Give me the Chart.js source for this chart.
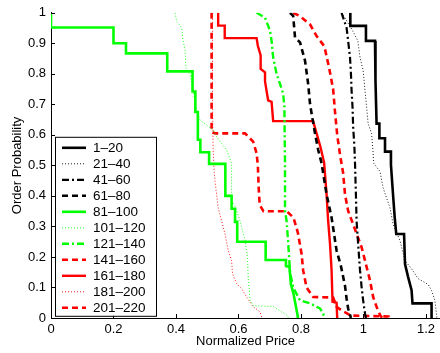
<!DOCTYPE html>
<html>
<head>
<meta charset="utf-8">
<script src="https://cdn.jsdelivr.net/npm/chart.js@4/dist/chart.umd.min.js"></script>
<style>
  html, body { margin: 0; padding: 0; background: #fff; }
  #wrap { width: 440px; height: 353px; position: relative; }
</style>
</head>
<body>
<div id="wrap"><canvas id="c" width="440" height="353"></canvas></div>
<script>
// ---- tick labels / axis ----
const X_TICKS = [0, 0.2, 0.4, 0.6, 0.8, 1, 1.2];
const Y_TICKS = [0, 0.1, 0.2, 0.3, 0.4, 0.5, 0.6, 0.7, 0.8, 0.9, 1];
const X_TICK_LABELS = ['0', '0.2', '0.4', '0.6', '0.8', '1', '1.2'];
const Y_TICK_LABELS = ['0', '0.1', '0.2', '0.3', '0.4', '0.5', '0.6', '0.7', '0.8', '0.9', '1'];
const X_TITLE = 'Normalized Price';
const Y_TITLE = 'Order Probability';

// ---- series labels ----
const SERIES_LABELS = ['1\u201320', '21\u201340', '41\u201360', '61\u201380', '81\u2013100', '101\u2013120',
  '121\u2013140', '141\u2013160', '161\u2013180', '181\u2013200', '201\u2013220'];

// ---- series values (normalized price x, order probability y) ----
const s01_x = [0.958, 0.958, 1.008, 1.008, 1.037, 1.037, 1.040, 1.042, 1.051, 1.051, 1.069, 1.069, 1.088, 1.088, 1.095, 1.100, 1.105, 1.130, 1.133, 1.143, 1.154, 1.157, 1.218, 1.218];
const s01_y = [1, 0.957, 0.957, 0.908, 0.908, 0.865, 0.778, 0.637, 0.637, 0.589, 0.589, 0.545, 0.545, 0.502, 0.40, 0.33, 0.275, 0.275, 0.177, 0.134, 0.091, 0.048, 0.048, 0];

const s02_x = [0.930, 0.940, 0.966, 0.982, 0.989, 0.999, 1.005, 1.010, 1.015, 1.026, 1.031, 1.033, 1.053, 1.063, 1.085, 1.095, 1.117, 1.133, 1.154, 1.175, 1.207, 1.218, 1.228, 1.232, 1.235];
const s02_y = [1, 0.985, 0.94, 0.908, 0.854, 0.811, 0.746, 0.692, 0.637, 0.605, 0.54, 0.507, 0.48, 0.426, 0.361, 0.307, 0.253, 0.188, 0.161, 0.129, 0.11, 0.09, 0.06, 0.03, 0];

const s03_x = [0.930, 0.935, 0.946, 0.951, 0.957, 0.960, 0.962, 0.965, 0.967, 0.971, 0.973, 0.976, 0.978, 0.983, 0.989, 0.994, 0.999, 1.005, 1.008];
const s03_y = [1, 0.984, 0.951, 0.908, 0.854, 0.80, 0.746, 0.692, 0.627, 0.562, 0.507, 0.40, 0.318, 0.243, 0.156, 0.102, 0.058, 0.015, 0];

const s04_x = [0.765, 0.775, 0.781, 0.797, 0.813, 0.823, 0.829, 0.834, 0.845, 0.855, 0.866, 0.882, 0.898, 0.914, 0.928, 0.941, 0.946, 0.951, 0.957, 0.960];
const s04_y = [1, 0.99, 0.919, 0.903, 0.843, 0.767, 0.702, 0.67, 0.605, 0.551, 0.507, 0.405, 0.329, 0.221, 0.17, 0.105, 0.064, 0.031, 0.01, 0];

const s05_x = [0, 0, 0.2, 0.2, 0.24, 0.24, 0.372, 0.372, 0.453, 0.453, 0.462, 0.462, 0.470, 0.470, 0.478, 0.478, 0.506, 0.506, 0.558, 0.558, 0.578, 0.578, 0.589, 0.589, 0.596, 0.596, 0.687, 0.687, 0.752, 0.752, 0.755, 0.763, 0.768, 0.776, 0.781, 0.789, 0.790];
const s05_y = [1, 0.952, 0.952, 0.90, 0.90, 0.867, 0.867, 0.808, 0.808, 0.742, 0.742, 0.675, 0.675, 0.584, 0.584, 0.543, 0.543, 0.505, 0.505, 0.40, 0.40, 0.358, 0.358, 0.315, 0.315, 0.25, 0.25, 0.19, 0.19, 0.17, 0.169, 0.169, 0.11, 0.08, 0.053, 0.01, 0];

const s06_x = [0.397, 0.402, 0.418, 0.423, 0.429, 0.432, 0.445, 0.450, 0.466, 0.477, 0.498, 0.519, 0.530, 0.546, 0.562, 0.578, 0.578, 0.589, 0.605, 0.621, 0.629, 0.631, 0.637, 0.647, 0.711, 0.738, 0.754, 0.760];
const s06_y = [1, 0.973, 0.951, 0.908, 0.876, 0.821, 0.80, 0.767, 0.681, 0.648, 0.632, 0.616, 0.594, 0.572, 0.551, 0.507, 0.383, 0.367, 0.318, 0.253, 0.199, 0.134, 0.058, 0.04, 0.038, 0.02, 0.01, 0];

const s07_x = [0.658, 0.685, 0.701, 0.706, 0.711, 0.722, 0.733, 0.743, 0.747, 0.748, 0.749, 0.749, 0.754, 0.759, 0.765, 0.775, 0.797, 0.829, 0.861, 0.871, 0.875];
const s07_y = [1, 0.984, 0.941, 0.908, 0.854, 0.80, 0.767, 0.735, 0.692, 0.583, 0.507, 0.351, 0.318, 0.248, 0.15, 0.10, 0.058, 0.048, 0.031, 0.015, 0];

const s08_x = [0.514, 0.514, 0.525, 0.621, 0.647, 0.658, 0.662, 0.665, 0.668, 0.680, 0.754, 0.776, 0.790, 0.802, 0.807, 0.818, 0.839, 0.903, 0.914, 0.930, 0.960, 1.080, 1.080];
const s08_y = [1, 0.61, 0.605, 0.605, 0.578, 0.54, 0.50, 0.42, 0.37, 0.35, 0.35, 0.329, 0.28, 0.21, 0.156, 0.10, 0.069, 0.067, 0.037, 0.025, 0.008, 0.005, 0];

const s09_x = [0.535, 0.535, 0.556, 0.556, 0.658, 0.662, 0.671, 0.671, 0.685, 0.685, 0.695, 0.706, 0.711, 0.839, 0.850, 0.862, 0.874, 0.882, 0.887, 0.893, 0.898, 0.901, 0.914, 0.916];
const s09_y = [1, 0.958, 0.958, 0.917, 0.917, 0.892, 0.86, 0.816, 0.805, 0.775, 0.713, 0.708, 0.645, 0.645, 0.605, 0.562, 0.51, 0.405, 0.318, 0.243, 0.156, 0.053, 0.05, 0];

const s10_x = [0.517, 0.517, 0.519, 0.522, 0.525, 0.530, 0.535, 0.546, 0.557, 0.567, 0.578, 0.581, 0.594, 0.610, 0.626, 0.647, 0.669, 0.675];
const s10_y = [1, 0.70, 0.55, 0.481, 0.448, 0.405, 0.361, 0.318, 0.275, 0.221, 0.188, 0.145, 0.113, 0.096, 0.069, 0.037, 0.02, 0];

const s11_x = [0.775, 0.797, 0.829, 0.850, 0.875, 0.890, 0.903, 0.909, 0.916, 0.925, 0.935, 0.941, 0.951, 0.967, 0.994, 1.005, 1.021, 1.031, 1.042, 1.053, 1.060];
const s11_y = [1, 0.989, 0.962, 0.924, 0.89, 0.82, 0.75, 0.675, 0.60, 0.535, 0.475, 0.405, 0.351, 0.307, 0.232, 0.188, 0.123, 0.069, 0.037, 0.01, 0];

const SERIES_X = [s01_x, s02_x, s03_x, s04_x, s05_x, s06_x, s07_x, s08_x, s09_x, s10_x, s11_x];
const SERIES_Y = [s01_y, s02_y, s03_y, s04_y, s05_y, s06_y, s07_y, s08_y, s09_y, s10_y, s11_y];

// ---- styles ----
const BLACK = '#000000', GREEN = '#00ff00', RED = '#ff0000';
const STYLES = [
  { color: BLACK, width: 2.6, dash: [] },
  { color: BLACK, width: 0.9, dash: [1, 2] },
  { color: BLACK, width: 2.2, dash: [7, 3, 2, 3] },
  { color: BLACK, width: 2.6, dash: [6, 4] },
  { color: GREEN, width: 2.6, dash: [] },
  { color: GREEN, width: 0.9, dash: [1, 2] },
  { color: GREEN, width: 2.4, dash: [7, 3, 2, 3] },
  { color: RED, width: 2.6, dash: [6, 4] },
  { color: RED, width: 2.4, dash: [] },
  { color: RED, width: 0.9, dash: [1, 2] },
  { color: RED, width: 2.6, dash: [6, 4] }
];

const FONT = "'Liberation Sans', Arial, Helvetica, sans-serif";

const datasets = SERIES_LABELS.map((lab, i) => ({
  label: lab,
  data: SERIES_X[i].map((x, k) => ({ x: x, y: SERIES_Y[i][k] })),
  showLine: true,
  fill: false,
  borderColor: STYLES[i].color,
  backgroundColor: STYLES[i].color,
  borderWidth: STYLES[i].width,
  borderDash: STYLES[i].dash,
  pointRadius: 0,
  pointHoverRadius: 0,
  tension: 0
}));

// inward tick marks (MATLAB style)
const inwardTicks = {
  id: 'inwardTicks',
  afterDatasetsDraw(chart) {
    const ctx = chart.ctx, xs = chart.scales.x, ys = chart.scales.y, a = chart.chartArea;
    ctx.save();
    ctx.strokeStyle = '#000';
    ctx.lineWidth = 1;
    ctx.beginPath();
    X_TICKS.forEach(v => {
      const px = Math.round(xs.getPixelForValue(v)) + 0.5;
      ctx.moveTo(px, a.bottom); ctx.lineTo(px, a.bottom - 4);
    });
    Y_TICKS.forEach(v => {
      const py = Math.round(ys.getPixelForValue(v)) + 0.5;
      ctx.moveTo(a.left, py); ctx.lineTo(a.left + 4, py);
    });
    ctx.stroke();
    ctx.restore();
  }
};

// legend box inside the plot (bottom-left)
const boxLegend = {
  id: 'boxLegend',
  afterDraw(chart) {
    const ctx = chart.ctx, a = chart.chartArea;
    const left = a.left + 4, top = a.top + 124, w = 101, h = 179;
    ctx.save();
    ctx.fillStyle = '#fff';
    ctx.fillRect(left, top, w, h);
    ctx.strokeStyle = '#000';
    ctx.lineWidth = 1;
    ctx.setLineDash([]);
    ctx.strokeRect(left + 0.5, top + 0.5, w, h);
    ctx.font = '13.5px ' + FONT;
    ctx.textBaseline = 'middle';
    ctx.textAlign = 'left';
    chart.data.datasets.forEach((ds, i) => {
      const y = top + 11 + i * 16;
      ctx.strokeStyle = ds.borderColor;
      ctx.lineWidth = ds.borderWidth;
      ctx.setLineDash(ds.borderDash);
      ctx.beginPath();
      ctx.moveTo(left + 7, y);
      ctx.lineTo(left + 31, y);
      ctx.stroke();
      ctx.setLineDash([]);
      ctx.fillStyle = '#000';
      ctx.fillText(ds.label, left + 38, y + 0.5);
    });
    ctx.restore();
  }
};

new Chart(document.getElementById('c'), {
  type: 'scatter',
  data: { datasets: datasets },
  options: {
    responsive: false,
    animation: false,
    devicePixelRatio: 1,
    layout: { padding: { top: 10, right: 0, left: 0, bottom: 0 } },
    plugins: { legend: { display: false }, tooltip: { enabled: false } },
    scales: {
      x: {
        type: 'linear',
        min: 0,
        max: 1.245,
        afterBuildTicks: s => { s.ticks = X_TICKS.map(v => ({ value: v })); },
        afterFit: s => { s.height = 35; },
        grid: { display: true, drawOnChartArea: false, drawTicks: false },
        border: { display: true, color: '#000', width: 1 },
        ticks: {
          padding: 4,
          color: '#000',
          font: { family: FONT, size: 13 },
          maxRotation: 0,
          callback: v => X_TICK_LABELS[X_TICKS.indexOf(v)]
        },
        title: { display: true, text: X_TITLE, color: '#000', font: { family: FONT, size: 13 }, padding: { top: 0, bottom: 4 } }
      },
      y: {
        type: 'linear',
        min: 0,
        max: 1,
        afterBuildTicks: s => { s.ticks = Y_TICKS.map(v => ({ value: v })); },
        afterFit: s => { s.width = 51; },
        grid: { display: true, drawOnChartArea: false, drawTicks: false },
        border: { display: true, color: '#000', width: 1 },
        ticks: {
          padding: 5,
          color: '#000',
          font: { family: FONT, size: 13 },
          callback: v => Y_TICK_LABELS[Y_TICKS.indexOf(v)]
        },
        title: { display: true, text: Y_TITLE, color: '#000', font: { family: FONT, size: 13 }, padding: { top: 10, bottom: 0 } }
      }
    }
  },
  plugins: [inwardTicks, boxLegend]
});
</script>
</body>
</html>
